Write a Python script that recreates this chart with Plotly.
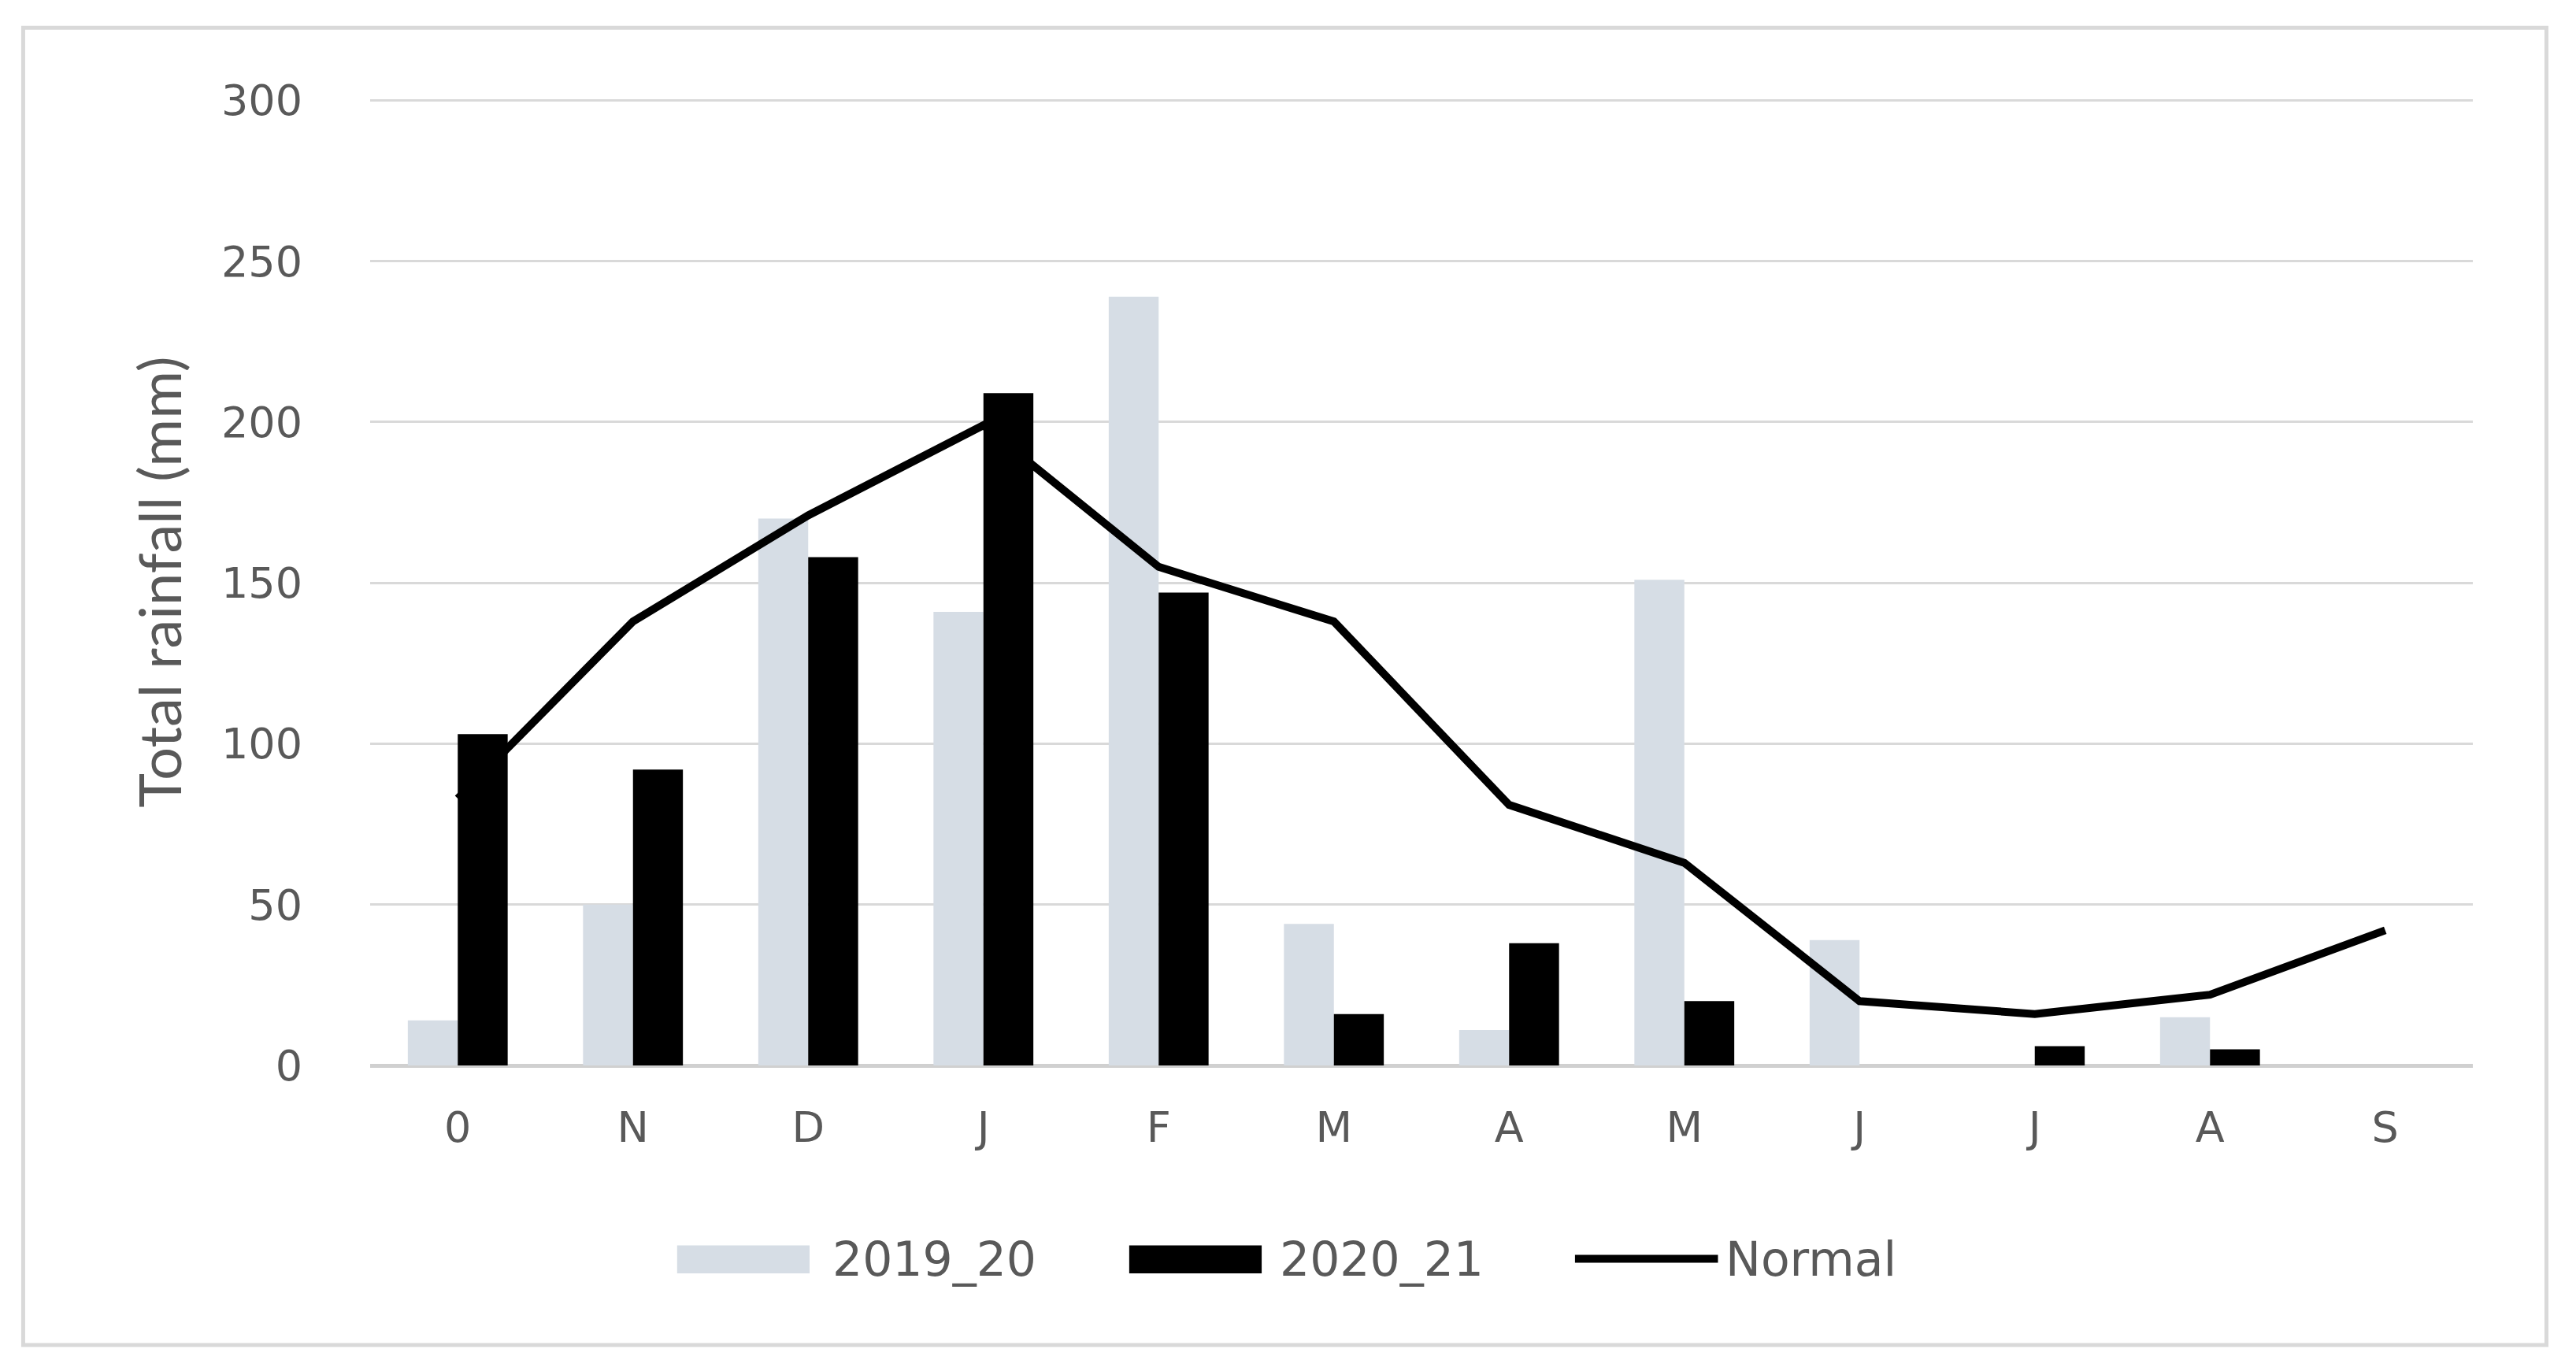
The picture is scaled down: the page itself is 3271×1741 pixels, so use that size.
import plotly.graph_objects as go

months = ["0", "N", "D", "J", "F", "M", "A", "M", "J", "J", "A", "S"]
xpos = list(range(len(months)))
rain_2019_20 = [14, 50, 170, 141, 239, 44, 11, 151, 39, 0, 15, 0]
rain_2020_21 = [103, 92, 158, 209, 147, 16, 38, 20, 0, 6, 5, 0]
normal = [83, 138, 171, 199, 155, 138, 81, 63, 20, 16, 22, 42]
ytick_vals = [0, 50, 100, 150, 200, 250, 300]
series_names = ["2019_20", "2020_21", "Normal"]

grey_txt = "#595959"
light = "#d6dde5"
tick_font = dict(family="DejaVu Sans", size=54, color=grey_txt)

fig = go.Figure()
fig.add_trace(go.Bar(x=xpos, y=rain_2019_20, name=series_names[0], marker=dict(color=light, line_width=0)))
fig.add_trace(go.Bar(x=xpos, y=rain_2020_21, name=series_names[1], marker=dict(color="#000000", line_width=0)))
fig.add_trace(go.Scatter(x=xpos, y=normal, name=series_names[2], mode="lines",
                         line=dict(color="#000000", width=10)))

fig.update_layout(
    width=3271, height=1741,
    paper_bgcolor="white", plot_bgcolor="white",
    margin=dict(l=462, r=139, t=117, b=396),
    barmode="group", bargap=0.43, bargroupgap=0,
    font=dict(family="DejaVu Sans", color=grey_txt, size=44),
    showlegend=False,
)
fig.update_xaxes(
    tickmode="array", tickvals=xpos, ticktext=months,
    range=[-0.5, len(months) - 0.5], showgrid=False, zeroline=False, showline=False,
    ticks="", ticklabelstandoff=42, tickfont=tick_font,
)
fig.update_yaxes(
    range=[0, 300.6], tickmode="array", tickvals=ytick_vals,
    showgrid=True, gridcolor="#d9d9d9", gridwidth=3,
    zeroline=True, zerolinecolor="#d0d0d0", zerolinewidth=5, showline=False,
    ticks="", ticklabelstandoff=85, tickfont=tick_font,
    title=dict(text="Total rainfall (mm)", font=dict(family="Lato", size=74, color=grey_txt), standoff=26),
)
# chart frame
fig.add_shape(type="rect", xref="paper", yref="paper",
              x0=-0.165, x1=1.035, y0=-0.289, y1=1.073,
              line=dict(color="#d9d9d9", width=5), fillcolor="rgba(0,0,0,0)", layer="below")

# custom legend with wide swatches (Excel style)
leg_y = -0.2
leg_font = dict(family="DejaVu Sans", size=60, color=grey_txt)
fig.add_shape(type="rect", xref="paper", yref="paper", x0=0.146, x1=0.209, y0=leg_y - 0.015, y1=leg_y + 0.014,
              fillcolor=light, line_width=0)
fig.add_annotation(xref="paper", yref="paper", x=0.219, y=leg_y, text=series_names[0],
                   showarrow=False, xanchor="left", yanchor="middle", font=leg_font)
fig.add_shape(type="rect", xref="paper", yref="paper", x0=0.361, x1=0.424, y0=leg_y - 0.015, y1=leg_y + 0.014,
              fillcolor="#000000", line_width=0)
fig.add_annotation(xref="paper", yref="paper", x=0.432, y=leg_y, text=series_names[1],
                   showarrow=False, xanchor="left", yanchor="middle", font=leg_font)
fig.add_shape(type="line", xref="paper", yref="paper", x0=0.573, x1=0.641, y0=leg_y, y1=leg_y,
              line=dict(color="#000000", width=10))
fig.add_annotation(xref="paper", yref="paper", x=0.644, y=leg_y, text=series_names[2],
                   showarrow=False, xanchor="left", yanchor="middle", font=leg_font)

fig.write_html("out.html")
